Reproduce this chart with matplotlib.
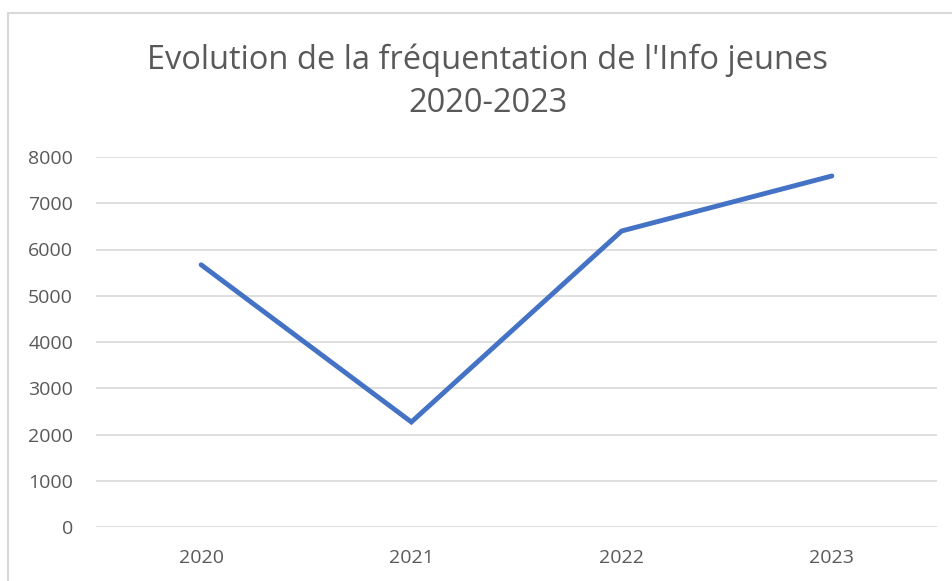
import matplotlib.pyplot as plt
from matplotlib.patches import Rectangle

plt.rcParams['font.family'] = ['Open Sans', 'DejaVu Sans']

# Données
years = ['2020', '2021', '2022', '2023']
visits = [5670, 2270, 6400, 7590]
y_ticks = [0, 1000, 2000, 3000, 4000, 5000, 6000, 7000, 8000]

W, H = 952, 581
fig = plt.figure(figsize=(W / 100, H / 100), dpi=100)
ax = fig.add_axes([96 / W, 54 / H, (937 - 96) / W, 370 / H])

# Cadre du graphique (style Excel)
fig.patches.append(Rectangle((8 / W, -0.1), 1.2, 1 - 13 / H + 0.1,
                             transform=fig.transFigure, fill=False,
                             edgecolor='#d9d9d9', linewidth=1.5))

x = range(len(years))
ax.plot(x, visits, color='#4472C4', linewidth=3.5, solid_capstyle='round',
        solid_joinstyle='miter', zorder=3)

ax.set_xlim(-0.5, len(years) - 0.5)
ax.set_ylim(0, 8000)
ax.set_yticks(y_ticks)
ax.set_yticklabels([str(v) for v in y_ticks])
ax.set_xticks(list(x))
ax.set_xticklabels(years)

ax.grid(axis='y', color='#d9d9d9', linewidth=1.2)
ax.set_axisbelow(True)
for s in ax.spines.values():
    s.set_visible(False)
ax.tick_params(axis='both', length=0, labelsize=14, labelcolor='#595959')
ax.tick_params(axis='y', pad=16.5)
ax.tick_params(axis='x', pad=16)

fig.text(488 / W, 1 - 82 / H, "Evolution de la fréquentation de l'Info jeunes\n2020-2023",
         ha='center', va='center', fontsize=23.5, color='#595959', linespacing=1.4)

plt.savefig('out.png', dpi=100)
